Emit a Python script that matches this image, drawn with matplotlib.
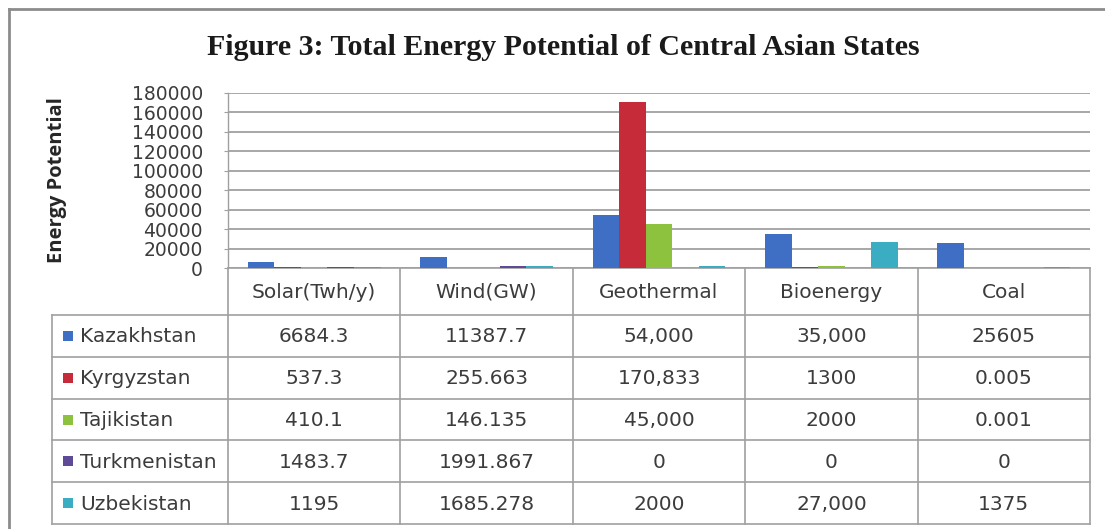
import matplotlib
matplotlib.use("Agg")
import matplotlib.pyplot as plt
from matplotlib.patches import Rectangle
from matplotlib.lines import Line2D

# ---- data -----------------------------------------------------------------
categories = ["Solar(Twh/y)", "Wind(GW)", "Geothermal", "Bioenergy", "Coal"]
countries = ["Kazakhstan", "Kyrgyzstan", "Tajikistan", "Turkmenistan", "Uzbekistan"]

# values as printed in the data table (bars are drawn from the same numbers)
kazakhstan = ["6684.3", "11387.7", "54,000", "35,000", "25605"]
kyrgyzstan = ["537.3", "255.663", "170,833", "1300", "0.005"]
tajikistan = ["410.1", "146.135", "45,000", "2000", "0.001"]
turkmenistan = ["1483.7", "1991.867", "0", "0", "0"]
uzbekistan = ["1195", "1685.278", "2000", "27,000", "1375"]

y_ticks = [0, 20000, 40000, 60000, 80000, 100000, 120000, 140000, 160000, 180000]

colors = ["#3F6FC5", "#C62B3A", "#8DC23F", "#5E4A96", "#3AADC2"]

title = "Figure 3: Total Energy Potential of Central Asian States"
y_label = "Energy Potential"

table_text = [kazakhstan, kyrgyzstan, tajikistan, turkmenistan, uzbekistan]
values = [[float(s.replace(",", "")) for s in row] for row in table_text]

# ---- layout (pixels) ------------------------------------------------------
W, H = 1105, 529
PL, PR, PT, PB = 228, 1090, 93, 268      # plot area
LABEL_L = 52                             # left edge of the row-label column
HEADER_B = 315                           # bottom of the header row
ROW_H = (524 - HEADER_B) / 5

GRID = "#a0a0a0"
TEXT = "#3c3c3c"

fig = plt.figure(figsize=(W / 100, H / 100), dpi=100)
fig.patch.set_facecolor("white")

# overlay in pixel coordinates for frame and data table
ov = fig.add_axes([0, 0, 1, 1])
ov.set_xlim(0, W)
ov.set_ylim(H, 0)
ov.axis("off")

# outer frame
ov.add_line(Line2D([9, W + 5], [9, 9], color="#8c8c8c", lw=2.0))
ov.add_line(Line2D([9, 9], [9, H + 5], color="#8c8c8c", lw=2.0))

# ---- bar chart ------------------------------------------------------------
ax = fig.add_axes([PL / W, 1 - PB / H, (PR - PL) / W, (PB - PT) / H])
n = len(countries)
gap = 1.5
bw = 1.0 / (n + gap)
for i, (name, vals) in enumerate(zip(countries, values)):
    xs = [c - 0.5 + gap / 2 * bw + i * bw for c in range(len(categories))]
    ax.bar(xs, vals, width=bw, align="edge", color=colors[i],
           linewidth=0, zorder=3)

ax.set_xlim(-0.5, len(categories) - 0.5)
ax.set_ylim(0, y_ticks[-1])
ax.set_yticks(y_ticks)
ax.set_yticklabels([str(t) for t in y_ticks])
ax.set_xticks([])
ax.yaxis.grid(True, color=GRID, lw=1.3)
ax.set_axisbelow(True)
for s in ["top", "right", "bottom"]:
    ax.spines[s].set_visible(False)
ax.spines["left"].set_color(GRID)
ax.spines["left"].set_linewidth(1.0)
ax.tick_params(axis="y", length=3, color=GRID, pad=15, labelsize=13.5,
               labelcolor=TEXT)
for lab in ax.get_yticklabels():
    lab.set_fontfamily("DejaVu Sans")
ax.patch.set_alpha(0)

fig.text(563 / W, 1 - 55 / H, title, ha="center", va="baseline",
         fontfamily="Liberation Serif", fontweight="bold", fontsize=21.5,
         color="#1a1a1a")
fig.text(57 / W, 1 - ((PT + PB) / 2) / H, y_label, rotation=90,
         ha="center", va="center", fontfamily="Open Sans",
         fontweight="bold", fontsize=14.5, color="#262626")

# ---- data table -----------------------------------------------------------
col_w = (PR - PL) / len(categories)
col_edges = [PL + k * col_w for k in range(len(categories) + 1)]
row_edges = [HEADER_B + k * ROW_H for k in range(n + 1)]
tbl_lw = 1.2

# header top line (category axis)
ov.add_line(Line2D([PL, PR], [PB, PB], color=GRID, lw=tbl_lw))
# horizontal rules
for y in row_edges:
    ov.add_line(Line2D([LABEL_L, PR], [y, y], color=GRID, lw=tbl_lw))
# vertical rules
ov.add_line(Line2D([LABEL_L, LABEL_L], [HEADER_B, row_edges[-1]], color=GRID, lw=tbl_lw))
for x in col_edges:
    ov.add_line(Line2D([x, x], [PB, row_edges[-1]], color=GRID, lw=tbl_lw))

font_tbl = dict(fontfamily="DejaVu Sans", fontsize=14.5, color=TEXT)
for j, cat in enumerate(categories):
    ov.text((col_edges[j] + col_edges[j + 1]) / 2, (PB + HEADER_B) / 2 + 1, cat,
            ha="center", va="center", **font_tbl)

for i, name in enumerate(countries):
    yc = (row_edges[i] + row_edges[i + 1]) / 2
    ov.add_patch(Rectangle((63, yc - 5), 10, 10, color=colors[i], lw=0))
    ov.text(80, yc + 1, name, ha="left", va="center", **font_tbl)
    for j, txt in enumerate(table_text[i]):
        ov.text((col_edges[j] + col_edges[j + 1]) / 2, yc + 1, txt,
                ha="center", va="center", **font_tbl)

fig.savefig("out.png", dpi=100, facecolor="white")
